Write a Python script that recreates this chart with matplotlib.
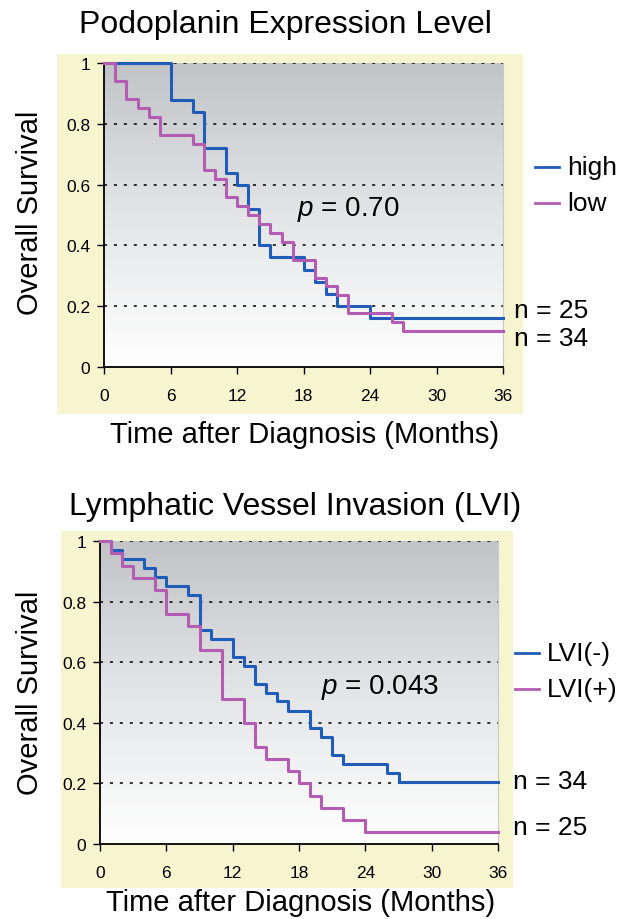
import numpy as np
import matplotlib
matplotlib.use("Agg")
import matplotlib.pyplot as plt
from matplotlib.colors import LinearSegmentedColormap
from matplotlib.patches import Rectangle
from matplotlib.lines import Line2D

plt.rcParams['font.family'] = ['Liberation Sans', 'DejaVu Sans']
plt.rcParams['mathtext.fontset'] = 'custom'
plt.rcParams['mathtext.it'] = 'Liberation Sans:italic'
plt.rcParams['mathtext.rm'] = 'Liberation Sans'

# --- data: Kaplan-Meier steps ---
pod_high_t = [0, 6, 8, 9, 11, 12, 13, 14, 15, 18, 19, 20, 21, 24, 36]
pod_high_s = [1, 0.88, 0.84, 0.72, 0.64, 0.60, 0.52, 0.40, 0.36, 0.32, 0.28, 0.24, 0.20, 0.16, 0.16]
pod_low_t = [0, 1, 2, 3, 4, 5, 8, 9, 10, 11, 12, 13, 14, 15, 16, 17, 19, 20, 21, 22, 26, 27, 36]
pod_low_s = [1, 0.941, 0.882, 0.853, 0.824, 0.765, 0.735, 0.647, 0.618, 0.559, 0.529, 0.5,
             0.471, 0.441, 0.412, 0.353, 0.294, 0.265, 0.235, 0.176, 0.147, 0.118, 0.118]

lvi_neg_t = [0, 1, 2, 4, 5, 6, 8, 9, 10, 12, 13, 14, 15, 16, 17, 19, 20, 21, 22, 26, 27, 36]
lvi_neg_s = [1, 0.971, 0.941, 0.912, 0.882, 0.853, 0.824, 0.706, 0.676, 0.618, 0.588, 0.529,
             0.5, 0.471, 0.441, 0.382, 0.353, 0.294, 0.265, 0.235, 0.206, 0.206]
lvi_pos_t = [0, 1, 2, 3, 5, 6, 8, 9, 11, 13, 14, 15, 17, 18, 19, 20, 22, 24, 36]
lvi_pos_s = [1, 0.96, 0.92, 0.88, 0.84, 0.76, 0.72, 0.64, 0.48, 0.40, 0.32, 0.28, 0.24,
             0.20, 0.16, 0.12, 0.08, 0.04, 0.04]

x_ticks = [0, 6, 12, 18, 24, 30, 36]
y_ticks = [0, 0.2, 0.4, 0.6, 0.8, 1]
y_ticklabels = ['0', '0.2', '0.4', '0.6', '0.8', '1']

BLUE = '#1f5db8'
PURPLE = '#b25db2'
YELLOW = '#f7f5d0'
W, H = 640, 920

fig = plt.figure(figsize=(6.4, 9.2), dpi=100)
fig.patch.set_facecolor('white')

gray_cmap = LinearSegmentedColormap.from_list('g', ['#ffffff', '#e4e5e7', '#c1c3c7'])


def px_rect(x0, y0, x1, y1):
    # pixel box (top-left origin) -> figure fraction [l, b, w, h]
    return [x0 / W, 1 - y1 / H, (x1 - x0) / W, (y1 - y0) / H]


def km_panel(axbox, panelbox, title, title_xy, xlabel_xy, ylabel_y,
             curves, names, legend_xy, nlabels, n_xy, ptext, p_xy):
    l, b, w, h = px_rect(*panelbox)
    fig.add_artist(Rectangle((l, b), w, h, transform=fig.transFigure,
                             facecolor=YELLOW, edgecolor='none', zorder=0))
    ax = fig.add_axes(px_rect(*axbox))
    ax.set_facecolor('none')
    grad = np.linspace(0, 1, 256).reshape(-1, 1)
    ax.imshow(grad, extent=[0, 36, 0, 1], origin='lower', aspect='auto',
              cmap=gray_cmap, zorder=0)
    for yv in y_ticks[1:]:
        ax.plot([0, 36], [yv, yv], color='black', lw=1.1,
                linestyle=(0, (2, 4.5)), zorder=1)
    for (t, s), c in zip(curves, [BLUE, PURPLE]):
        ax.step(t, s, where='post', color=c, lw=2.2, zorder=3, clip_on=False)
    ax.set_xlim(0, 36)
    ax.set_ylim(0, 1)
    ax.set_xticks(x_ticks)
    ax.set_yticks(y_ticks)
    ax.set_yticklabels(y_ticklabels)
    ax.tick_params(axis='both', direction='out', length=5, width=1,
                   labelsize=12.5, color='black')
    ax.tick_params(axis='x', pad=10)
    ax.tick_params(axis='y', pad=5)
    ax.spines['top'].set_visible(False)
    ax.spines['right'].set_color('#c8c8c8')
    ax.spines['left'].set_linewidth(1.3)
    ax.spines['bottom'].set_linewidth(1.3)
    ax.text(p_xy[0], p_xy[1], ptext, fontsize=20, va='center', ha='left', zorder=4)

    fig.text(title_xy[0] / W, 1 - title_xy[1] / H, title, fontsize=23,
             ha='center', va='center')
    fig.text(xlabel_xy[0] / W, 1 - xlabel_xy[1] / H, 'Time after Diagnosis (Months)',
             fontsize=21, ha='center', va='center')
    fig.text(30 / W, 1 - ylabel_y / H, 'Overall Survival', fontsize=21,
             rotation=90, ha='center', va='center')

    lx, ly = legend_xy
    for i, (nm, c) in enumerate(zip(names, [BLUE, PURPLE])):
        yy = 1 - (ly + i * 36) / H
        fig.add_artist(Line2D([lx / W, (lx + 24) / W], [yy, yy], color=c, lw=2,
                              transform=fig.transFigure))
        fig.text((lx + 32) / W, yy, nm, fontsize=19, ha='left', va='center')
    for (nx, ny), lab in zip(n_xy, nlabels):
        fig.text(nx / W, 1 - ny / H, lab, fontsize=19, ha='left', va='center')
    return ax


km_panel((104.3, 64.3, 503, 367.7), (57, 55, 523, 415),
         'Podoplanin Expression Level', (285, 25), (305, 435), 213,
         [(pod_high_t, pod_high_s), (pod_low_t, pod_low_s)], ['high', 'low'],
         (535, 168), ['n = 25', 'n = 34'], [(514, 311), (514, 339)],
         '$p$ = 0.70', (17.4, 0.52))

km_panel((100, 542.3, 498, 845), (61, 532, 513, 889),
         'Lymphatic Vessel Invasion (LVI)', (295, 507), (301, 903), 693,
         [(lvi_neg_t, lvi_neg_s), (lvi_pos_t, lvi_pos_s)], ['LVI(-)', 'LVI(+)'],
         (515, 654), ['n = 34', 'n = 25'], [(513, 782), (513, 828)],
         '$p$ = 0.043', (20.0, 0.52))

fig.savefig('out.png', dpi=100)
